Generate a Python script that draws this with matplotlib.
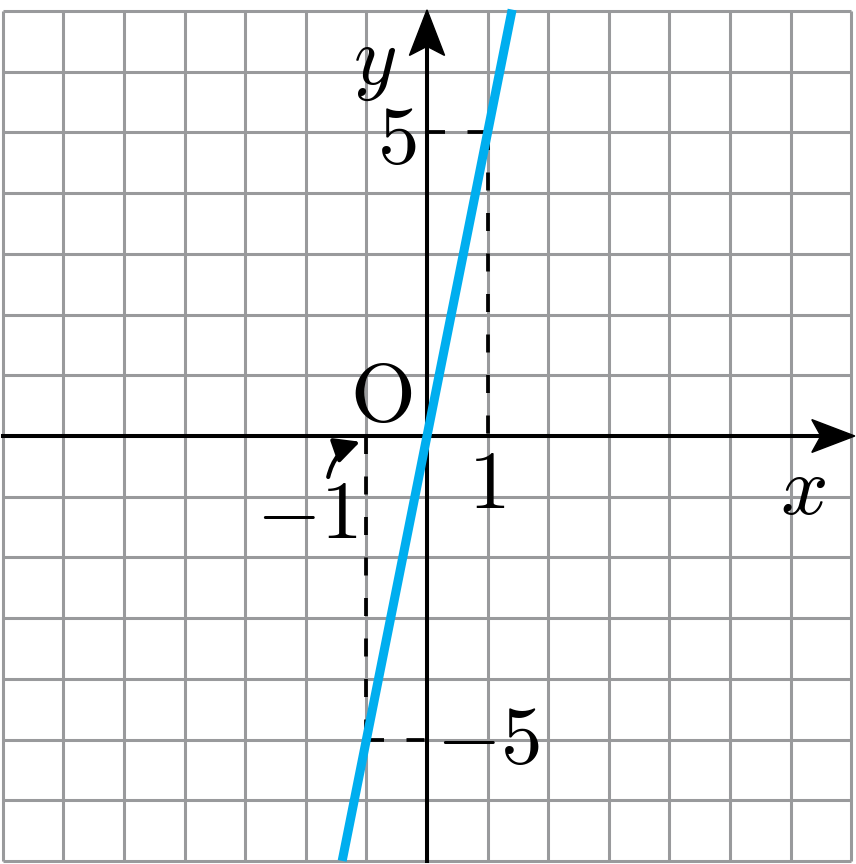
import numpy as np
import matplotlib.pyplot as plt
from matplotlib.patches import Polygon

plt.rcParams['mathtext.fontset'] = 'cm'

# line y = 5x
slope = 5
x_line = [-1.4, 1.405]
# helper points
pt_pos = (1, 5)
pt_neg = (-1, -5)
grid_ticks = np.arange(-7, 8)

fig = plt.figure(figsize=(8.56, 8.64), dpi=100)
ax = fig.add_axes([0, 0, 1, 1])
ax.set_xlim(-427 / 60.6, (856 - 427) / 60.6)
ax.set_ylim(-(864 - 436) / 60.7, 436 / 60.7)
ax.axis('off')

gcol = '#999a9c'
for g in grid_ticks:
    ax.plot([g, g], [-7, 7], color=gcol, lw=2.2, zorder=1, solid_capstyle='butt')
    ax.plot([-7, 7], [g, g], color=gcol, lw=2.2, zorder=1, solid_capstyle='butt')

# axes
ax.plot([-7, 6.6], [0, 0], color='black', lw=2.9, zorder=3)
ax.plot([0, 0], [-7, 6.6], color='black', lw=2.9, zorder=3)
ax.add_patch(Polygon([[7.06, 0], [6.35, 0.27], [6.5, 0], [6.35, -0.27]],
                     closed=True, color='black', zorder=4))
ax.add_patch(Polygon([[0, 7.02], [0.29, 6.27], [0, 6.42], [-0.29, 6.27]],
                     closed=True, color='black', zorder=4))

# dashed helper lines
dash = dict(color='black', lw=2.7, dashes=(4.8, 6.0), zorder=2)
ax.plot([pt_pos[0], pt_pos[0]], [pt_pos[1], 0], **dash)
ax.plot([0, pt_pos[0]], [pt_pos[1], pt_pos[1]], **dash)
ax.plot([pt_neg[0], pt_neg[0]], [0, pt_neg[1]], **dash)
ax.plot([pt_neg[0], 0], [pt_neg[1], pt_neg[1]], **dash)

# the line
xs = np.array(x_line)
ax.plot(xs, slope * xs, color='#00aeef', lw=6.5, zorder=5, solid_capstyle='butt')

# labels
fs = 60
ax.text(-0.86, 6.16, r'$y$', fontsize=fs, ha='center', va='center')
ax.text(6.2, -0.89, r'$x$', fontsize=fs, ha='center', va='center')
ax.text(-0.5, 4.88, r'$5$', fontsize=fs, ha='center', va='center')
ax.text(-0.76, 0.63, r'$\mathrm{O}$', fontsize=fs, ha='center', va='center')
ax.text(0.99, -0.8, r'$1$', fontsize=fs, ha='center', va='center')
ax.text(-1.98, -1.3, r'$-1$', fontsize=fs, ha='center', va='center')
ax.text(1.0, -5.0, r'$-5$', fontsize=fs, ha='center', va='center')

ax.annotate('', xy=(-1.06, -0.08), xytext=(-1.64, -0.72),
            arrowprops=dict(arrowstyle='-|>', color='black', lw=3,
                            mutation_scale=38,
                            connectionstyle='arc3,rad=-0.3'))

fig.savefig('out.png', dpi=100)
